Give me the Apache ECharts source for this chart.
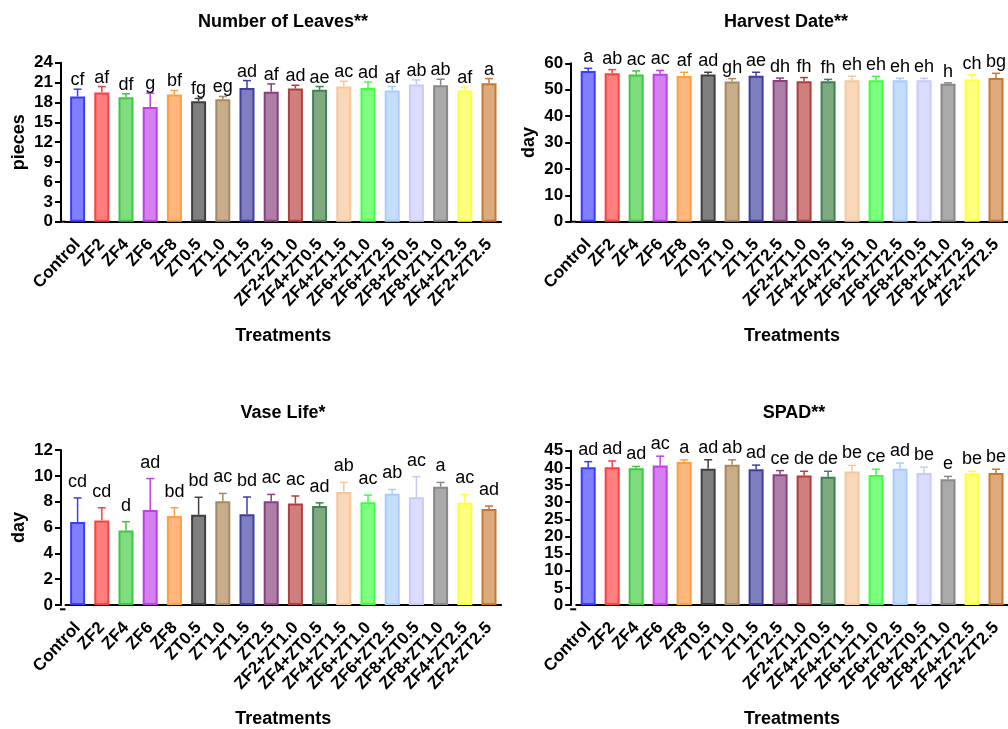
<!DOCTYPE html>
<html>
<head>
<meta charset="utf-8">
<script src="https://cdn.jsdelivr.net/npm/echarts@6/dist/echarts.min.js"></script>
<style>
html,body{margin:0;padding:0;background:#fff;}
#chart{width:1008px;height:729px;}
</style>
</head>
<body>
<div id="chart"></div>
<script>
const categories = ['Control','ZF2','ZF4','ZF6','ZF8','ZT0.5','ZT1.0','ZT1.5','ZT2.5','ZF2+ZT1.0','ZF4+ZT0.5','ZF4+ZT1.5','ZF6+ZT1.0','ZF6+ZT2.5','ZF8+ZT0.5','ZF8+ZT1.0','ZF4+ZT2.5','ZF2+ZT2.5'];

const leavesMean = [18.9,19.5,18.8,17.3,19.2,18.2,18.5,20.2,19.6,20.1,19.9,20.4,20.2,19.8,20.7,20.6,19.8,20.9];
const leavesSD   = [1.1,0.9,0.5,2.1,0.6,0.4,0.4,1.1,1.2,0.5,0.5,0.8,0.9,0.6,0.7,0.9,0.5,0.7];
const leavesLetters = ['cf','af','df','g','bf','fg','eg','ad','af','ad','ae','ac','ad','af','ab','ab','af','a'];

const harvestMean = [57.1,56.2,55.8,56.0,55.2,55.8,53.1,55.3,53.7,53.2,53.2,53.6,53.6,53.6,53.6,52.3,53.9,54.4];
const harvestSD   = [1.0,1.4,1.3,1.3,1.4,0.8,1.1,1.3,0.7,1.4,0.7,1.5,1.5,0.7,0.7,0.3,1.8,1.8];
const harvestLetters = ['a','ab','ac','ac','af','ad','gh','ae','dh','fh','fh','eh','eh','eh','eh','h','ch','bg'];

const vaseMean = [6.42,6.55,5.77,7.36,6.90,6.98,8.03,7.03,8.03,7.86,7.66,8.74,7.96,8.61,8.34,9.16,7.91,7.43];
const vaseSD   = [1.87,0.98,0.68,2.43,0.63,1.36,0.61,1.33,0.53,0.58,0.25,0.75,0.55,0.33,1.60,0.33,0.65,0.23];
const vaseLetters = ['cd','cd','d','ad','bd','bd','ac','bd','ac','ac','ad','ab','ac','ab','ac','a','ac','ad'];

const spadMean = [40.2,40.2,39.9,40.7,41.7,39.7,40.9,39.6,38.1,37.8,37.4,38.9,37.9,39.7,38.5,36.7,38.4,38.5];
const spadSD   = [1.6,1.8,0.5,2.7,0.6,2.65,1.45,1.2,1.1,1.2,1.6,1.8,1.7,1.7,1.7,0.8,0.6,1.1];
const spadLetters = ['ad','ad','ad','ac','a','ad','ab','ad','ce','de','de','be','ce','ad','be','e','be','be'];

const fillColors = ['#7f7fff','#ff7f7f','#7fdc7f','#d67ff0','#ffb77f','#7f7f7f','#c8ad8a','#7f7fbf','#ae7fa6','#d07f7f','#7faa7f','#f8d8b8','#7fff7f','#c6ddfa','#dcdcff','#aaaaaa','#ffff7f','#dcaa7c'];
const borderColors = ['#3c3cff','#ff3f3f','#3fc83f','#c03fe8','#ff9f40','#3f3f3f','#a88a60','#3f3fa0','#8c3f80','#b03f3f','#3f7f5a','#f5c79f','#3fff3f','#a8ccff','#c8c8ff','#888888','#ffff3f','#c87830'];

const FONT = 'Liberation Sans, Arial, Helvetica, sans-serif';

const panels = [
  {title:'Number of Leaves**', tx:278, ty:8, mean:leavesMean, sd:leavesSD, letters:leavesLetters, max:24, interval:3, yName:'pieces', grid:{left:65.5, top:62.7, width:435.6, height:159}, off:4.5, lblGap:0},
  {title:'Harvest Date**', tx:781, ty:8, mean:harvestMean, sd:harvestSD, letters:harvestLetters, max:60, interval:10, yName:'day', grid:{left:576.2, top:63.3, width:435.6, height:158.4}, off:5, lblGap:2},
  {title:'Vase Life*', tx:278, ty:398.7, mean:vaseMean, sd:vaseSD, letters:vaseLetters, max:12, interval:2, yName:'day', grid:{left:65.5, top:450, width:435.6, height:159.3}, off:4.5, lblGap:7},
  {title:'SPAD**', tx:789, ty:398.7, mean:spadMean, sd:spadSD, letters:spadLetters, max:45, interval:5, yName:'', grid:{left:576.2, top:450.7, width:435.6, height:158.6}, off:5, lblGap:3}
];

const grids = [], xAxes = [], yAxes = [], series = [], titles = [], graphics = [];

panels.forEach((p, k) => {
  grids.push(Object.assign({containLabel:false}, p.grid));
  titles.push({
    text: p.title, left: p.tx, top: p.ty, textAlign: 'center',
    textStyle: {fontFamily: FONT, fontSize: 18, fontWeight: 'bold', color: '#000'}
  });
  xAxes.push({
    type: 'category', gridIndex: k, data: categories,
    axisLine: {lineStyle: {color: '#000', width: 2}},
    axisTick: {alignWithLabel: true, length: 6, lineStyle: {color: '#000', width: 2}},
    axisLabel: {interval: 0, rotate: 47, margin: 20, color: '#000', fontFamily: FONT, fontWeight: 'bold', fontSize: 17},
    name: 'Treatments', nameLocation: 'middle', nameGap: 105,
    nameTextStyle: {fontFamily: FONT, fontWeight: 'bold', fontSize: 18, color: '#000'}
  });
  yAxes.push({
    type: 'value', gridIndex: k, min: 0, max: p.max, interval: p.interval, offset: p.off,
    splitLine: {show: false},
    axisLine: {show: true, lineStyle: {color: '#000', width: 2}},
    axisTick: {show: true, length: 6, lineStyle: {color: '#000', width: 2}},
    axisLabel: {margin: 8, color: '#000', fontFamily: FONT, fontWeight: 'bold', fontSize: 17},
    name: p.yName, nameLocation: 'middle', nameGap: 33, nameRotate: 90,
    nameTextStyle: {fontFamily: FONT, fontWeight: 'bold', fontSize: 18, color: '#000'}
  });
  series.push({
    type: 'bar', xAxisIndex: k, yAxisIndex: k, barWidth: 15,
    data: p.mean.map((v, i) => ({value: v, itemStyle: {color: fillColors[i], borderColor: borderColors[i], borderWidth: 2}})),
    z: 2
  });
  const letters = p.letters;
  const gap = p.lblGap;
  series.push({
    type: 'custom', xAxisIndex: k, yAxisIndex: k, z: 3,
    data: p.mean.map((v, i) => [i, v, v + p.sd[i]]),
    renderItem: function (params, api) {
      const i = api.value(0);
      const a = api.coord([i, api.value(1)]);
      const b = api.coord([i, api.value(2)]);
      const col = borderColors[i];
      return {
        type: 'group',
        children: [
          {type: 'line', shape: {x1: a[0], y1: a[1], x2: b[0], y2: b[1]}, style: {stroke: col, lineWidth: 1.5}},
          {type: 'line', shape: {x1: b[0] - 4, y1: b[1], x2: b[0] + 4, y2: b[1]}, style: {stroke: col, lineWidth: 1.5}},
          {type: 'text', style: {text: letters[i], x: b[0], y: b[1] - gap, textAlign: 'center', textVerticalAlign: 'bottom', align: 'center', verticalAlign: 'bottom', fill: '#000', font: '18px ' + FONT}}
        ]
      };
    }
  });
  const yBottom = p.grid.top + p.grid.height;
  graphics.push({type: 'line', shape: {x1: p.grid.left - p.off - 1, y1: yBottom, x2: p.grid.left, y2: yBottom}, style: {stroke: '#000', lineWidth: 2}});
});

const chart = echarts.init(document.getElementById('chart'), null, {renderer: 'canvas'});
chart.setOption({
  animation: false,
  backgroundColor: '#fff',
  title: titles,
  grid: grids,
  xAxis: xAxes,
  yAxis: yAxes,
  series: series,
  graphic: graphics
});
</script>
</body>
</html>
